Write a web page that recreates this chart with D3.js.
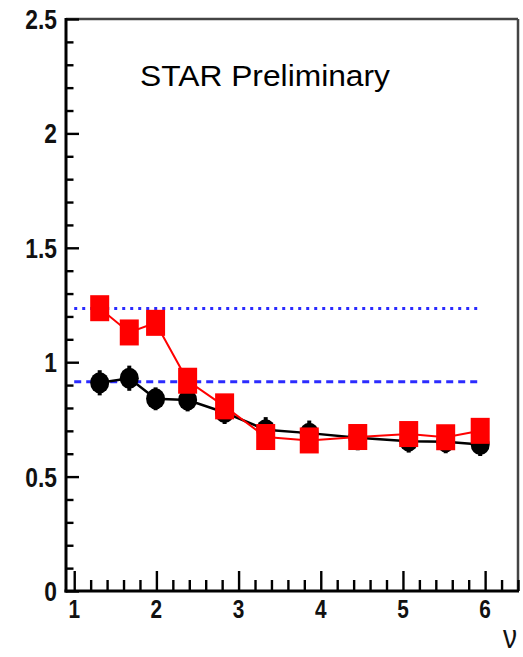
<!DOCTYPE html>
<html>
<head>
<meta charset="utf-8">
<script src="https://cdn.jsdelivr.net/npm/d3@7"></script>
<style>
  html, body { margin: 0; padding: 0; background: #fff; }
  svg { display: block; }
</style>
</head>
<body>
<svg id="chart" width="523" height="657"></svg>
<script>
// Number of participants per binary collision (nu) for each centrality bin
const nuValues = [1.31, 1.67, 1.99, 2.38, 2.83, 3.33, 3.86, 4.45, 5.07, 5.52, 5.94];
// Black series (circles)
const blackValues = [0.91, 0.93, 0.84, 0.835, 0.78, 0.705, 0.69, 0.67, 0.655, 0.652, 0.64];
const blackErrors = [0.055, 0.055, 0.05, 0.05, 0.05, 0.055, 0.055, 0.055, 0.05, 0.05, 0.05];
// Red series (squares)
const redValues = [1.236, 1.13, 1.172, 0.919, 0.807, 0.673, 0.658, 0.673, 0.686, 0.672, 0.70];
// Reference levels
const dashedLevel = 0.915;
const dottedLevel = 1.235;
const refRange = [1.0, 5.95];
// Axis ticks
const xMajorTicks = [1, 2, 3, 4, 5, 6];
const xTickLabels = ["1", "2", "3", "4", "5", "6"];
const yMajorTicks = [0, 0.5, 1, 1.5, 2, 2.5];
const yTickLabels = ["0", "0.5", "1", "1.5", "2", "2.5"];

const svg = d3.select("#chart");
const frameLeft = 66, frameRight = 518, frameTop = 19, frameBottom = 591;

const x = d3.scaleLinear().domain([0.9, 6.4]).range([frameLeft, frameRight]);
const y = d3.scaleLinear().domain([0, 2.5]).range([frameBottom, frameTop]);

const xMinor = d3.range(10, 65, 2).map(v => v / 10).filter(v => !xMajorTicks.includes(v));
const yMinor = d3.range(0, 26, 1).map(v => v / 10).filter(v => !yMajorTicks.some(t => Math.abs(t - v) < 1e-9));

// Frame: top and right edges
svg.append("line").attr("x1", frameLeft).attr("x2", frameRight).attr("y1", frameTop).attr("y2", frameTop)
  .attr("stroke", "#444").attr("stroke-width", 2.5);
svg.append("line").attr("x1", frameRight).attr("x2", frameRight).attr("y1", frameTop).attr("y2", frameBottom)
  .attr("stroke", "#444").attr("stroke-width", 2.5);

function styleAxis(g) {
  g.select(".domain").remove();
  g.selectAll(".tick line").attr("stroke", "#000").attr("stroke-width", 2.4);
  g.selectAll(".tick text").remove();
}

// X axis ticks, pointing into the frame
svg.append("g").attr("transform", `translate(0,${frameBottom})`)
  .call(d3.axisBottom(x).tickValues(xMajorTicks).tickSizeInner(-20).tickSizeOuter(0))
  .call(styleAxis);
svg.append("g").attr("transform", `translate(0,${frameBottom})`)
  .call(d3.axisBottom(x).tickValues(xMinor).tickSizeInner(-11).tickSizeOuter(0))
  .call(styleAxis);
// Y axis ticks
svg.append("g").attr("transform", `translate(${frameLeft},0)`)
  .call(d3.axisLeft(y).tickValues(yMajorTicks).tickSizeInner(-13).tickSizeOuter(0))
  .call(styleAxis);
svg.append("g").attr("transform", `translate(${frameLeft},0)`)
  .call(d3.axisLeft(y).tickValues(yMinor).tickSizeInner(-7.5).tickSizeOuter(0))
  .call(styleAxis);

// Left and bottom axis lines
svg.append("line").attr("x1", frameLeft).attr("x2", frameLeft).attr("y1", frameTop - 1).attr("y2", frameBottom + 1.5)
  .attr("stroke", "#000").attr("stroke-width", 3);
svg.append("line").attr("x1", frameLeft - 1.5).attr("x2", frameRight + 1).attr("y1", frameBottom).attr("y2", frameBottom)
  .attr("stroke", "#000").attr("stroke-width", 3);

// Tick labels (narrow bold sans)
const labelFont = "'Liberation Sans', Arial, sans-serif";
svg.append("g").selectAll("text").data(xMajorTicks).join("text")
  .attr("transform", d => `translate(${x(d)},618) scale(0.8,1)`)
  .attr("text-anchor", "middle")
  .attr("font-family", labelFont).attr("font-weight", "bold").attr("font-size", 26)
  .attr("fill", "#111")
  .text((d, i) => xTickLabels[i]);
svg.append("g").selectAll("text").data(yMajorTicks).join("text")
  .attr("transform", d => `translate(57,${y(d) + 10}) scale(0.8,1)`)
  .attr("text-anchor", "end")
  .attr("font-family", labelFont).attr("font-weight", "bold").attr("font-size", 28.5)
  .attr("fill", "#111")
  .text((d, i) => yTickLabels[i]);

// Axis title
svg.append("text")
  .attr("transform", "translate(510,648) scale(0.85,1)")
  .attr("text-anchor", "middle")
  .attr("font-family", labelFont).attr("font-size", 33)
  .attr("fill", "#111")
  .text("ν");

// Header text
svg.append("text")
  .attr("x", 140).attr("y", 86)
  .attr("font-family", labelFont).attr("font-size", 29.5)
  .attr("textLength", 250).attr("lengthAdjust", "spacingAndGlyphs")
  .attr("fill", "#000")
  .text("STAR Preliminary");

// Reference levels
svg.append("line")
  .attr("x1", x(refRange[0])).attr("x2", x(refRange[1]))
  .attr("y1", y(dottedLevel)).attr("y2", y(dottedLevel))
  .attr("stroke", "#2b2bff").attr("stroke-width", 3).attr("stroke-dasharray", "3,5");
svg.append("line")
  .attr("x1", x(refRange[0])).attr("x2", x(refRange[1]))
  .attr("y1", y(dashedLevel)).attr("y2", y(dashedLevel))
  .attr("stroke", "#2b2bff").attr("stroke-width", 3).attr("stroke-dasharray", "7,5");

const blackData = nuValues.map((n, i) => ({ n, v: blackValues[i], e: blackErrors[i] }));
const redData = nuValues.map((n, i) => ({ n, v: redValues[i] }));
const line = d3.line().x(d => x(d.n)).y(d => y(d.v));

// Black series
svg.append("path").datum(blackData).attr("d", line)
  .attr("fill", "none").attr("stroke", "#000").attr("stroke-width", 2.5);
const bg = svg.append("g").selectAll("g").data(blackData).join("g");
bg.append("line")
  .attr("x1", d => x(d.n)).attr("x2", d => x(d.n))
  .attr("y1", d => y(d.v + d.e)).attr("y2", d => y(d.v - d.e))
  .attr("stroke", "#000").attr("stroke-width", 4);
bg.append("ellipse")
  .attr("cx", d => x(d.n)).attr("cy", d => y(d.v))
  .attr("rx", 9.5).attr("ry", 10.5).attr("fill", "#000");

// Red series
svg.append("path").datum(redData).attr("d", line)
  .attr("fill", "none").attr("stroke", "#f00").attr("stroke-width", 2);
svg.append("g").selectAll("rect").data(redData).join("rect")
  .attr("x", d => x(d.n) - 9.5).attr("y", d => y(d.v) - 13)
  .attr("width", 19).attr("height", 26).attr("fill", "#f00");
</script>
</body>
</html>
